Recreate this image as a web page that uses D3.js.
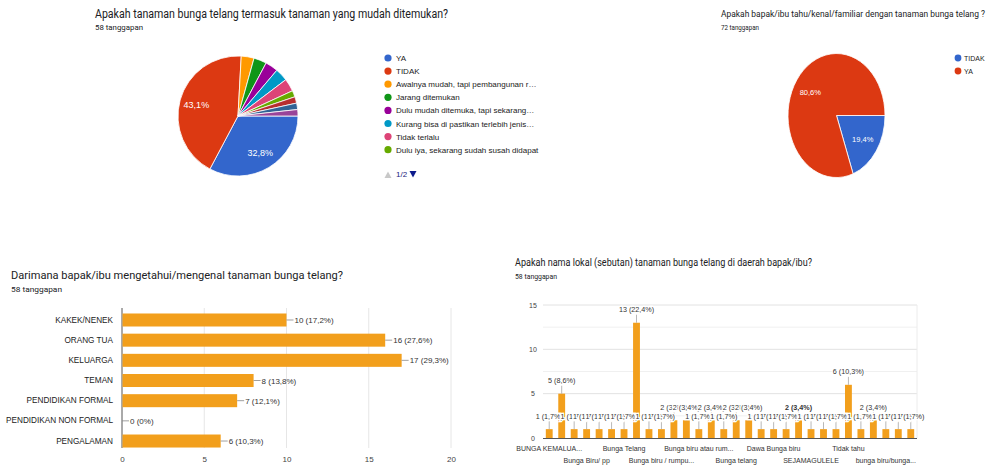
<!DOCTYPE html>
<html><head><meta charset="utf-8">
<script src="https://cdn.jsdelivr.net/npm/d3@7"></script>
<style>
html,body{margin:0;padding:0;background:#fff;}
svg{display:block;}
text{font-family:"Liberation Sans",Arial,sans-serif;}
.title{font-family:Roboto,"Liberation Sans",Arial,sans-serif;fill:#202124;}
</style></head>
<body>
<svg id="c" width="989" height="466"></svg>
<script>
// ---------- DATA ----------
const pie1Labels = ["YA","TIDAK","Awalnya mudah, tapi pembangunan r…","Jarang ditemukan","Dulu mudah ditemuka, tapi sekarang…","Kurang bisa di pastikan terlebih jenis…","Tidak terlalu","Dulu iya, sekarang sudah susah didapat","(hal. 2)","(hal. 2) ","(hal. 2)  "];
const pie1Values = [19,25,2,2,2,2,2,1,1,1,1];
const pie1Colors = ["#3366cc","#dc3912","#ff9900","#109618","#990099","#0099c6","#dd4477","#66aa00","#b82e2e","#316395","#994499"];
const pie1LegendCount = 8;

const pie2Labels = ["TIDAK","YA"];
const pie2Values = [14,58];
const pie2Colors = ["#3366cc","#dc3912"];

const bar1Categories = ["KAKEK/NENEK","ORANG TUA","KELUARGA","TEMAN","PENDIDIKAN FORMAL","PENDIDIKAN NON FORMAL","PENGALAMAN"];
const bar1Values = [10,16,17,8,7,0,6];
const bar1Ticks = [0,5,10,15,20];
const bar1Total = 58;

const bar2Labels = ["BUNGA KEMALUA...","","","Bunga Biru/ pp","","","Bunga Telang","","","Bunga biru / rumpu...","","","Bunga biru atau rum...","","","Bunga telang","","","Dawa Bunga biru","","","SEJAMAGULELE","","","Tidak tahu","","","bunga biru/bunga...","",""];
const bar2Values = [1,5,1,1,1,1,1,13,1,1,2,2,1,2,1,2,2,1,1,1,2,1,1,1,6,1,2,1,1,1];
const bar2Ticks = [0,5,10,15];
const bar2MinorTicks = [2.5,7.5,12.5];
const bar2Total = 58;
const bar2Bold = 20; // highlighted label index

const barColor = "#f29f1c";
const pct = (v,t) => (Math.round(v/t*1000)/10).toFixed(1).replace(".",",").replace(/,0$/,"") + "%";

const svg = d3.select("#c");
svg.append("rect").attr("width",989).attr("height",466).attr("fill","#fff");

function title(x,y,size,len,txt,cls){
  svg.append("text").attr("class",cls||"title").attr("x",x).attr("y",y)
    .attr("font-size",size).attr("textLength",len).attr("lengthAdjust","spacingAndGlyphs")
    .attr("fill","#202124").text(txt);
}

// ---------- PIE 1 ----------
title(95,17.5,12.5,353,"Apakah tanaman bunga telang termasuk tanaman yang mudah ditemukan?");
title(95,30,7.5,48,"58 tanggapan");
{
  const total = d3.sum(pie1Values);
  const pie = d3.pie().sort(null).startAngle(Math.PI/2).endAngle(Math.PI/2+2*Math.PI);
  const arcs = pie(pie1Values);
  const r = 60;
  const arc = d3.arc().innerRadius(0).outerRadius(r);
  const g = svg.append("g").attr("transform","translate(238,116)");
  g.selectAll("path").data(arcs).join("path").attr("d",arc)
    .attr("fill",(d,i)=>pie1Colors[i]).attr("stroke","#fff").attr("stroke-width",0.8);
  const la = d3.arc().innerRadius(r*0.72).outerRadius(r*0.72);
  g.selectAll("text.pl").data(arcs.filter(d=>d.value/total>0.1)).join("text")
    .attr("class","pl").attr("transform",d=>`translate(${la.centroid(d)})`)
    .attr("text-anchor","middle").attr("dy","0.35em").attr("font-size",9).attr("fill","#fff")
    .text(d=>pct(d.value,total));
  // legend
  const lg = svg.append("g");
  const items = pie1Labels.slice(0,pie1LegendCount);
  items.forEach((t,i)=>{
    const y = 58 + i*13.1;
    lg.append("circle").attr("cx",388).attr("cy",y).attr("r",3.6).attr("fill",pie1Colors[i]);
    lg.append("text").attr("x",396).attr("y",y+3).attr("font-size",8).attr("fill","#222").text(t);
  });
  lg.append("path").attr("d","M384.5,178 L388,171.5 L391.5,178 Z").attr("fill","#c8c8c8");
  lg.append("text").attr("x",396).attr("y",177).attr("font-size",8).attr("fill","#1a237e").text("1/2");
  lg.append("path").attr("d","M409.5,171 L416.5,171 L413,177.5 Z").attr("fill","#0d1b8c");
}

// ---------- PIE 2 ----------
title(721,17,9,264,"Apakah bapak/ibu tahu/kenal/familiar dengan tanaman bunga telang ?");
title(721,29.5,6.5,38,"72 tanggapan");
{
  const total = d3.sum(pie2Values);
  const pie = d3.pie().sort(null).startAngle(Math.PI/2).endAngle(Math.PI/2+2*Math.PI);
  const arcs = pie(pie2Values);
  const arc = d3.arc().innerRadius(0).outerRadius(1);
  const g = svg.append("g").attr("transform","translate(836.5,115.5)");
  g.append("g").attr("transform","scale(48.5,62)")
    .selectAll("path").data(arcs).join("path").attr("d",arc)
    .attr("fill",(d,i)=>pie2Colors[i]).attr("stroke","#fff").attr("stroke-width",0.8)
    .attr("vector-effect","non-scaling-stroke");
  const la = d3.arc().innerRadius(0.66).outerRadius(0.66);
  g.selectAll("text").data(arcs).join("text")
    .attr("transform",d=>{const c=la.centroid(d);return `translate(${c[0]*48.5},${c[1]*62})`;})
    .attr("text-anchor","middle").attr("dy","0.35em").attr("font-size",7.5).attr("fill","#fff")
    .text(d=>pct(d.value,total));
  pie2Labels.forEach((t,i)=>{
    const y = 58 + i*13;
    svg.append("circle").attr("cx",958).attr("cy",y).attr("r",3.4).attr("fill",pie2Colors[i]);
    svg.append("text").attr("x",964).attr("y",y+2.6).attr("font-size",7).attr("fill","#222").text(t);
  });
}

// ---------- BAR 1 (horizontal) ----------
title(11,278.5,11,332,"Darimana bapak/ibu mengetahui/mengenal tanaman bunga telang?");
title(11,291.5,7.5,51,"58 tanggapan");
{
  const x = d3.scaleLinear().domain([0,20]).range([122,451]);
  const y = d3.scaleBand().domain(bar1Categories).range([308,448])
    .paddingInner(0.355).paddingOuter(0.148).align(0.92);
  const g = svg.append("g");
  g.selectAll("line.grid").data(bar1Ticks.slice(1)).join("line").attr("class","grid")
    .attr("x1",d=>x(d)).attr("x2",d=>x(d)).attr("y1",308).attr("y2",448)
    .attr("stroke","#e6e6e6").attr("stroke-width",1);
  g.append("line").attr("x1",x(0)).attr("x2",x(0)).attr("y1",308).attr("y2",448)
    .attr("stroke","#555").attr("stroke-width",1);
  g.selectAll("rect").data(bar1Values).join("rect")
    .attr("x",x(0)+0.5).attr("y",(d,i)=>y(bar1Categories[i]))
    .attr("width",d=>Math.max(0,x(d)-x(0)-0.5)).attr("height",y.bandwidth()).attr("fill",barColor);
  bar1Values.forEach((v,i)=>{
    const cy = y(bar1Categories[i]) + y.bandwidth()/2;
    g.append("line").attr("x1",x(v)).attr("x2",x(v)+7).attr("y1",cy).attr("y2",cy)
      .attr("stroke","#888").attr("stroke-width",0.8);
    g.append("text").attr("x",x(v)+8).attr("y",cy+3).attr("font-size",8).attr("fill","#333")
      .text(`${v} (${pct(v,bar1Total)})`);
  });
  const ya = d3.axisLeft(y).tickSize(0).tickPadding(9);
  const yg = g.append("g").attr("transform",`translate(${x(0)},0)`).call(ya);
  yg.select(".domain").remove();
  yg.selectAll("text").attr("font-size",8.2).attr("fill","#222").attr("font-family","'Liberation Sans',Arial,sans-serif");
  const xa = d3.axisBottom(x).tickValues(bar1Ticks).tickSize(0).tickPadding(8);
  const xg = g.append("g").attr("transform","translate(0,448)").call(xa);
  xg.select(".domain").remove();
  xg.selectAll("text").attr("font-size",8).attr("fill","#444").attr("font-family","'Liberation Sans',Arial,sans-serif");
}

// ---------- BAR 2 (columns) ----------
title(515,265.5,10,297,"Apakah nama lokal (sebutan) tanaman bunga telang di daerah bapak/ibu?");
title(515,278.5,6.5,42,"58 tanggapan");
{
  const idx = d3.range(bar2Values.length);
  const x = d3.scaleBand().domain(idx).range([543,917]).paddingInner(0.45).paddingOuter(0.225);
  const y = d3.scaleLinear().domain([0,15]).range([438,305]);
  const g = svg.append("g");
  g.selectAll("line.minor").data(bar2MinorTicks).join("line").attr("class","minor")
    .attr("x1",543).attr("x2",917).attr("y1",d=>y(d)).attr("y2",d=>y(d))
    .attr("stroke","#f0f0f0").attr("stroke-width",1);
  g.selectAll("line.major").data(bar2Ticks.slice(1)).join("line").attr("class","major")
    .attr("x1",543).attr("x2",917).attr("y1",d=>y(d)).attr("y2",d=>y(d))
    .attr("stroke","#e2e2e2").attr("stroke-width",1);
  g.append("line").attr("x1",917).attr("x2",917).attr("y1",305).attr("y2",438)
    .attr("stroke","#ececec").attr("stroke-width",1);
  g.selectAll("rect").data(bar2Values).join("rect")
    .attr("x",(d,i)=>x(i)).attr("y",d=>y(d)).attr("width",x.bandwidth())
    .attr("height",d=>y(0)-y(d)).attr("fill",barColor);
  g.append("line").attr("x1",543).attr("x2",917).attr("y1",438.5).attr("y2",438.5)
    .attr("stroke","#555").attr("stroke-width",1);
  // value labels (overlapping, later on top)
  bar2Values.forEach((v,i)=>{
    const cx = x(i)+x.bandwidth()/2, top = y(v);
    g.append("line").attr("x1",cx).attr("x2",cx).attr("y1",top).attr("y2",top-8)
      .attr("stroke","#999").attr("stroke-width",0.7);
  });
  bar2Values.forEach((v,i)=>{
    const cx = x(i)+x.bandwidth()/2, top = y(v);
    g.append("text").attr("x",cx).attr("y",top-10.5).attr("text-anchor","middle")
      .attr("font-size",7.2).attr("fill","#333").attr("font-weight",i===bar2Bold?"bold":"normal")
      .attr("stroke","#fff").attr("stroke-width",2.5).attr("paint-order","stroke")
      .text(`${v} (${pct(v,bar2Total)})`);
  });
  // y axis
  const ya = d3.axisLeft(y).tickValues(bar2Ticks).tickSize(0).tickPadding(8);
  const yg = g.append("g").attr("transform","translate(539,0)").call(ya);
  yg.select(".domain").remove();
  yg.selectAll("text").attr("font-size",7).attr("fill","#444").attr("text-anchor","middle").attr("dx",2)
    .attr("font-family","'Liberation Sans',Arial,sans-serif");
  // x labels alternating rows
  let k = 0;
  bar2Labels.forEach((t,i)=>{
    if(!t) return;
    const cx = x(i)+x.bandwidth()/2;
    g.append("text").attr("x",cx).attr("y",k%2===0?450.5:462.5).attr("text-anchor","middle")
      .attr("font-size",7).attr("fill","#333").text(t);
    k++;
  });
}
</script>
</body></html>
